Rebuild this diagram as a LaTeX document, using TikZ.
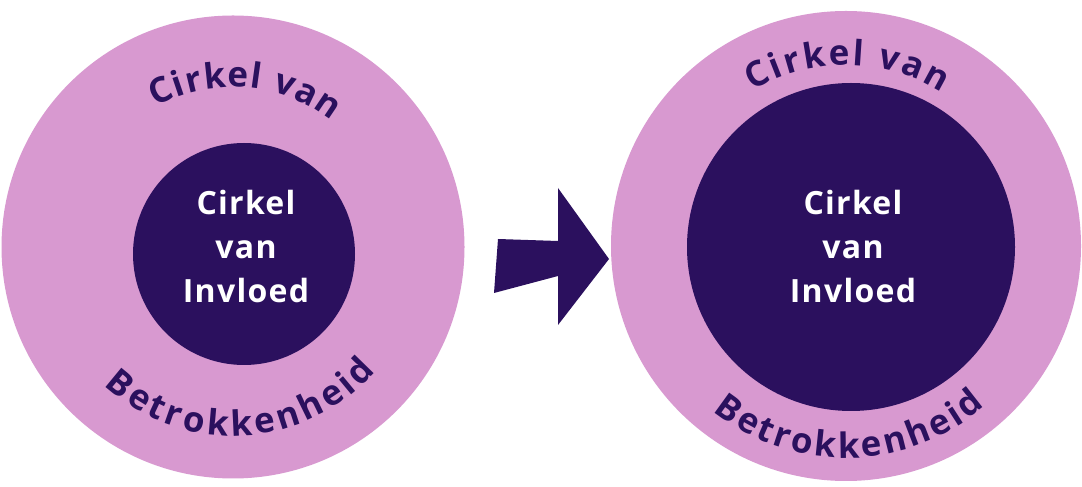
\documentclass[tikz,border=0pt]{standalone}
\usepackage{fontspec}
\usetikzlibrary{decorations.text}
\newfontfamily\ringfont{Open Sans}
\newfontfamily\corefont[LetterSpace=4]{Open Sans}
\newcommand\arcfont{\ringfont\bfseries\fontsize{35}{40}\selectfont}
\definecolor{ringpink}{RGB}{216,153,208}
\definecolor{corepurple}{RGB}{43,16,94}
\begin{document}
\begin{tikzpicture}[x=1pt,y=1pt,
 ring/.style={circle,fill=ringpink,inner sep=0pt,minimum size=#1},
 core/.style={circle,fill=corepurple,inner sep=0pt,minimum size=#1},
 coretext/.style={align=center,text=white,font=\corefont\bfseries\fontsize{32}{44}\selectfont},
 arctext/.style={decorate,decoration={text along path,text align={fit to path},text color=corepurple,text={|\arcfont|#1}}}]
 \fill[white] (0,0) rectangle (1082,487);
 \useasboundingbox (0,0) rectangle (1082,487);
 \node[ring=463pt] (ringL) at (233,240) {};
 \node[core=222pt] (coreL) at (244,233) {};
 \node[ring=470pt] (ringR) at (846,241) {};
 \node[core=328pt] (coreR) at (851,240) {};
 \node[coretext] (txtL) at (246,240) {Cirkel\\van\\Invloed};
 \node[coretext] (txtR) at (853,240) {Cirkel\\van\\Invloed};
 \path[arctext=Cirkel van] ([shift={(119:160)}]ringL.center) arc[start angle=119,end angle=52,radius=160];
 \path[arctext=Betrokkenheid] ([shift={(227:189)}]ringL.center) arc[start angle=227,end angle=319,radius=189];
 \path[arctext=Cirkel van] ([shift={(121:181)}]ringR.center) arc[start angle=121,end angle=58,radius=181];
 \path[arctext=Betrokkenheid] ([shift={(231:212)}]ringR.center) arc[start angle=231,end angle=311,radius=212];
 \fill[corepurple] (498,248) -- (558,246) -- (558,299) -- (609,228) -- (558,162) -- (558,211) -- (494,194) -- cycle;
\end{tikzpicture}
\end{document}
